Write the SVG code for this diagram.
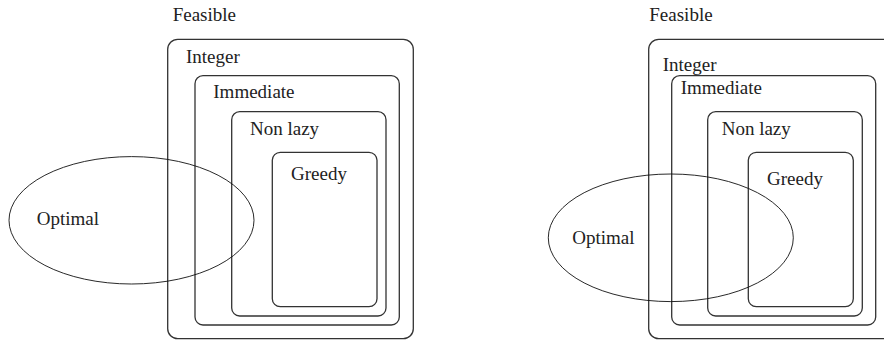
<svg xmlns="http://www.w3.org/2000/svg" width="884" height="340" viewBox="0 0 884 340">
<style>
.t{font-family:"Liberation Serif",serif;font-size:19px;fill:#222}
.box{fill:none;stroke:#333;stroke-width:1.3}
.ell{fill:none;stroke:#111;stroke-width:0.9}
</style>
<rect width="884" height="340" fill="#fff"/>
<g id="left">
<text class="t" id="l-feasible" x="172.7" y="21">Feasible</text>
<g id="l-integer"><rect class="box" x="167.7" y="39.3" width="245.6" height="299.4" rx="10"/><text class="t" x="186" y="62.5">Integer</text></g>
<g id="l-immediate"><rect class="box" x="195" y="75.7" width="204.3" height="249.3" rx="8"/><text class="t" x="213.3" y="98.3">Immediate</text></g>
<g id="l-nonlazy"><rect class="box" x="231.7" y="111.7" width="154.3" height="204.3" rx="8"/><text class="t" x="250" y="135">Non lazy</text></g>
<g id="l-greedy"><rect class="box" x="272.3" y="152.3" width="104.7" height="154.4" rx="8"/><text class="t" x="291" y="180">Greedy</text></g>
<g id="l-optimal"><ellipse class="ell" cx="131.5" cy="220.3" rx="122.5" ry="63.7"/><text class="t" x="36.7" y="225">Optimal</text></g>
</g>
<g id="right">
<text class="t" id="r-feasible" x="649.3" y="21">Feasible</text>
<g id="r-integer"><rect class="box" x="648.7" y="39.3" width="260" height="299.4" rx="10"/><text class="t" x="662.7" y="70.7">Integer</text></g>
<g id="r-immediate"><rect class="box" x="671.7" y="75.7" width="204" height="249.3" rx="8"/><text class="t" x="680.7" y="94">Immediate</text></g>
<g id="r-nonlazy"><rect class="box" x="707.7" y="111.7" width="154.6" height="204.3" rx="8"/><text class="t" x="721.7" y="135">Non lazy</text></g>
<g id="r-greedy"><rect class="box" x="748.3" y="152.3" width="105" height="154.4" rx="8"/><text class="t" x="767" y="185">Greedy</text></g>
<g id="r-optimal"><ellipse class="ell" cx="670.8" cy="237.8" rx="122.5" ry="63.8"/><text class="t" x="572.3" y="244.3">Optimal</text></g>
</g>
<g id="connectors"/>
</svg>
